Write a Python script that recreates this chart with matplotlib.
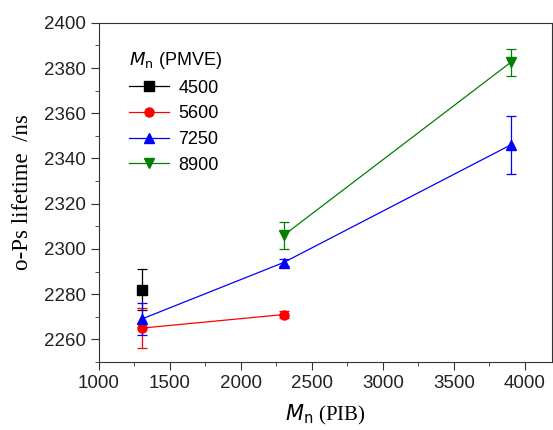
import matplotlib
matplotlib.use('Agg')
import matplotlib.pyplot as plt
from matplotlib.lines import Line2D
from matplotlib.ticker import MultipleLocator

# data
labels = ['4500', '5600', '7250', '8900']
x_4500 = [1300]
y_4500 = [2282]
e_4500 = [9]

x_5600 = [1300, 2300]
y_5600 = [2265, 2271]
e_5600 = [9, 1.5]

x_7250 = [1300, 2300, 3900]
y_7250 = [2269, 2294, 2346]
e_7250 = [7, 1.5, 13]

x_8900 = [2300, 3900]
y_8900 = [2306, 2382.5]
e_8900 = [6, 6]

series = [
    (x_4500, y_4500, e_4500, 'black', 's'),
    (x_5600, y_5600, e_5600, 'red', 'o'),
    (x_7250, y_7250, e_7250, 'blue', '^'),
    (x_8900, y_8900, e_8900, 'green', 'v'),
]

plt.rcParams['font.family'] = ['Liberation Sans', 'DejaVu Sans']

fig = plt.figure(figsize=(5.53, 4.30), dpi=100)
ax = fig.add_axes([0.179, 0.158, 0.819, 0.789])

handles = []
for (xs, ys, es, col, mk), lab in zip(series, labels):
    ax.errorbar(xs, ys, yerr=es, color=col, marker=mk, markersize=6.5,
                linewidth=0.9, elinewidth=0.9, capsize=3.5, capthick=0.9)
    handles.append(Line2D([], [], color=col, marker=mk, markersize=6.5,
                          linewidth=0.9, label=lab))

ax.set_xlim(1000, 4190)
ax.set_ylim(2250, 2400)
ax.xaxis.set_major_locator(MultipleLocator(500))
ax.xaxis.set_minor_locator(MultipleLocator(250))
ax.yaxis.set_major_locator(MultipleLocator(20))
ax.yaxis.set_minor_locator(MultipleLocator(10))
ax.tick_params(which='both', direction='out', top=False, right=False, color='#333333')
ax.tick_params(which='major', length=6, labelsize=13.5, labelcolor='#222222')
ax.tick_params(which='minor', length=3)
for sp in ax.spines.values():
    sp.set_color('#333333')

ax.set_xlabel(r'$M_\mathrm{n}$ (PIB)', family='Liberation Serif', fontsize=15, labelpad=8)
ax.set_ylabel('o-Ps lifetime  /ns', family='Liberation Serif', fontsize=16.5)
ax.yaxis.set_label_coords(-0.145, 0.5)

leg = ax.legend(handles=handles, title=r'$M_\mathrm{n}$ (PMVE)', loc='upper left',
                frameon=False, fontsize=13, title_fontsize=13,
                bbox_to_anchor=(0.03, 0.968), handlelength=2.2, handletextpad=0.55,
                labelspacing=0.48)
leg._legend_box.align = 'left'

fig.savefig('out.png', dpi=100)
